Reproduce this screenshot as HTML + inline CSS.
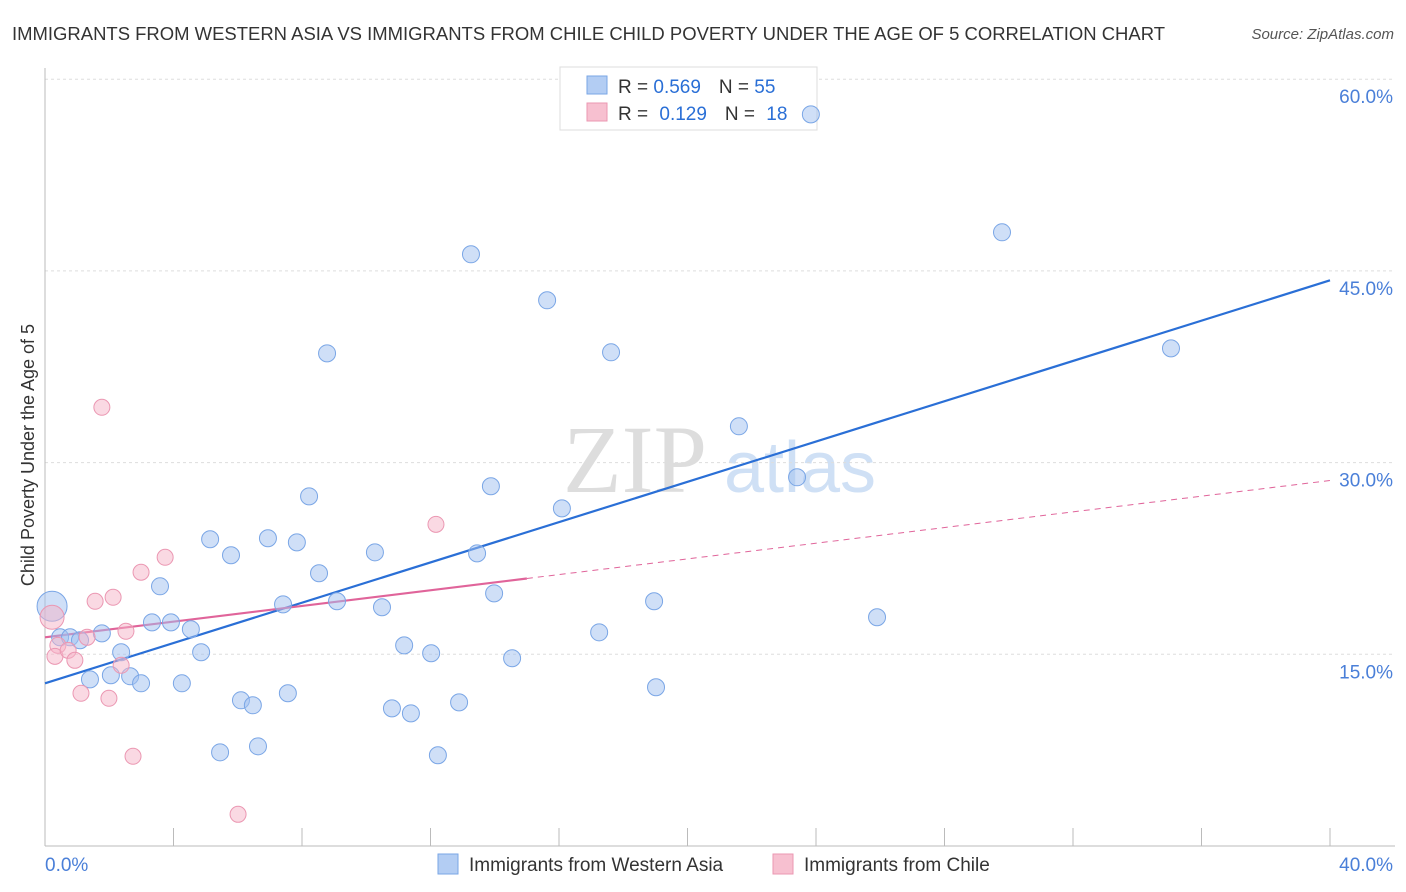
<!DOCTYPE html>
<html><head><meta charset="utf-8"><style>
html,body{margin:0;padding:0;background:#fff;width:1406px;height:892px;overflow:hidden;font-family:"Liberation Sans",sans-serif;}
</style></head><body>
<svg width="1406" height="892" xmlns="http://www.w3.org/2000/svg">
<text x="12" y="40" font-size="18" fill="#333" textLength="1153" lengthAdjust="spacingAndGlyphs">IMMIGRANTS FROM WESTERN ASIA VS IMMIGRANTS FROM CHILE CHILD POVERTY UNDER THE AGE OF 5 CORRELATION CHART</text>
<text x="1394" y="39" font-size="15" fill="#555" font-style="italic" text-anchor="end">Source: ZipAtlas.com</text>
<g>
<text x="635" y="492" font-size="96" fill="#ddd" font-family="Liberation Serif,serif" text-anchor="middle">ZIP</text>
<text x="800" y="492" font-size="72" fill="#cfe0f5" text-anchor="middle">atlas</text>
</g>
<g id="grid"></g>
<g id="axes"></g>
<g id="lines"></g>
<text transform="translate(34,455) rotate(-90)" font-size="18" fill="#333" text-anchor="middle">Child Poverty Under the Age of 5</text>
<g>
<rect x="560" y="67" width="257" height="63" fill="#fff" stroke="#ddd"/>
<rect x="587" y="76" width="20" height="18" fill="#b3cdf3" stroke="#7aa6e6"/>
<rect x="587" y="103" width="20" height="18" fill="#f7c0d0" stroke="#eb97b2"/>
<text x="618" y="93" font-size="19" fill="#333">R = <tspan fill="#2a6fd6">0.569</tspan><tspan dx="18">N = </tspan><tspan fill="#2a6fd6">55</tspan></text>
<text x="618" y="120" font-size="19" fill="#333">R = <tspan dx="6" fill="#2a6fd6">0.129</tspan><tspan dx="18">N = </tspan><tspan dx="6" fill="#2a6fd6">18</tspan></text>
</g>
<g id="points"></g>
<g>
<rect x="438" y="854" width="20" height="20" fill="#b3cdf3" stroke="#7aa6e6"/>
<text x="469" y="871" font-size="19" fill="#333">Immigrants from Western Asia</text>
<rect x="773" y="854" width="20" height="20" fill="#f7c0d0" stroke="#eb97b2"/>
<text x="804" y="871" font-size="19" fill="#333">Immigrants from Chile</text>
</g>
</svg>
<script>
const yTicks=[15,30,45,60];
const yTickLabels=["15.0%","30.0%","45.0%","60.0%"];
const xTickLabels=["0.0%","40.0%"];
const blueX=[0.22,0.47,0.78,1.09,1.77,1.40,2.05,2.37,2.65,2.99,3.33,3.58,3.92,4.26,4.54,4.86,5.14,5.79,6.10,6.47,5.45,6.63,6.94,7.56,7.84,7.41,8.22,8.53,8.78,9.09,10.27,10.49,10.80,11.18,11.39,12.02,12.23,12.89,13.26,13.45,13.88,13.98,14.54,15.63,16.09,17.25,17.62,18.96,19.02,21.60,23.41,23.84,25.90,29.79,35.05];
const blueY=[18.76,16.33,16.33,16.10,16.64,13.04,13.36,15.16,13.28,12.73,17.50,20.32,17.50,12.73,16.96,15.16,24.00,22.75,11.40,11.01,7.33,7.80,24.08,11.95,23.76,18.91,27.36,21.34,38.55,19.15,22.98,18.68,10.77,15.70,10.38,15.08,7.10,11.24,46.30,22.90,28.15,19.77,14.69,42.70,26.42,16.72,38.63,19.15,12.42,32.84,28.85,57.25,17.90,48.02,38.94];
const pinkX=[0.22,0.40,0.31,0.72,0.93,1.31,1.12,1.56,1.77,1.99,2.12,2.37,2.52,2.74,2.99,3.74,6.01,12.17];
const pinkY=[17.90,15.70,14.84,15.31,14.53,16.33,11.95,19.15,34.33,11.56,19.46,14.14,16.80,7.02,21.42,22.59,2.48,25.17];
const blueTrend=[12.73,44.26];
const pinkTrend=[16.33,28.6];
const pinkSolidEnd=15;

const NS="http://www.w3.org/2000/svg";
const xs=v=>45+v*32.125;
const ys=v=>846-v*12.78;
function mk(tag,attrs,parent){const e=document.createElementNS(NS,tag);for(const k in attrs)e.setAttribute(k,attrs[k]);document.getElementById(parent).appendChild(e);return e;}
yTicks.forEach((t,i)=>{
  const g=mk('line',{x1:45,x2:1395,y1:ys(t),y2:ys(t),stroke:'#ddd','stroke-dasharray':'3,3'},'grid');
  
  
  const l=mk('text',{x:1393,y:ys(t)+24,'font-size':19,fill:'#4a7fd8','text-anchor':'end'},'axes');
  l.textContent=yTickLabels[i];
  
  
});
const ax=mk('line',{x1:45,x2:45,y1:68,y2:846,stroke:'#bbb'},'axes');


const bx=mk('line',{x1:45,x2:1395,y1:846,y2:846,stroke:'#bbb'},'axes');


for(let i=1;i<=10;i++){
  const t=mk('line',{x1:xs(i*4),x2:xs(i*4),y1:828,y2:846,stroke:'#bbb'},'axes');
  
  
}
[[0,'start',45],[40,'end',1393]].forEach((d,i)=>{
  const l=mk('text',{x:d[2],y:871,'font-size':19,fill:'#4a7fd8','text-anchor':d[1]},'axes');
  l.textContent=xTickLabels[i];
  
  
});
const bl=mk('line',{x1:xs(0),y1:ys(blueTrend[0]),x2:xs(40),y2:ys(blueTrend[1]),stroke:'#2a6fd6','stroke-width':2.2},'lines');


const pAt=x=>pinkTrend[0]+(pinkTrend[1]-pinkTrend[0])*x/40;
const pl=mk('line',{x1:xs(0),y1:ys(pAt(0)),x2:xs(pinkSolidEnd),y2:ys(pAt(pinkSolidEnd)),stroke:'#e0649a','stroke-width':2.2},'lines');


const pd=mk('line',{x1:xs(pinkSolidEnd),y1:ys(pAt(pinkSolidEnd)),x2:xs(40),y2:ys(pAt(40)),stroke:'#e0649a','stroke-width':1,'stroke-dasharray':'6,5'},'lines');


blueX.forEach((x,i)=>{
  const c=mk('circle',{cx:xs(x),cy:ys(blueY[i]),r:i===0?15:8.5,fill:'rgba(160,192,240,0.5)',stroke:'#7aa6e6','stroke-width':1},'points');
  
  
});
pinkX.forEach((x,i)=>{
  const c=mk('circle',{cx:xs(x),cy:ys(pinkY[i]),r:i===0?12:8,fill:'rgba(246,180,200,0.5)',stroke:'#eb97b2','stroke-width':1},'points');
  
  
});
</script>
</body></html>
